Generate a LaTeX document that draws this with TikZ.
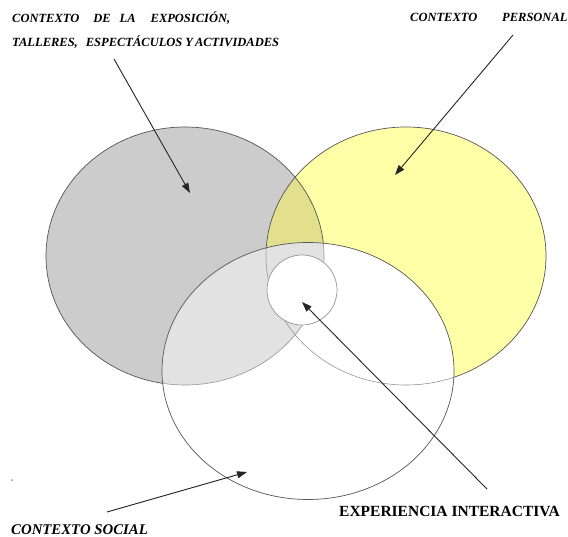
\documentclass[tikz,border=0pt]{standalone}
\usepackage{fontspec}
\setmainfont{Liberation Serif}
\usetikzlibrary{arrows.meta}

\definecolor{ctxgray}{RGB}{204,204,204}
\definecolor{ctxyellow}{RGB}{255,255,168}
\definecolor{ctxolive}{RGB}{226,224,140}
\definecolor{ctxlight}{RGB}{226,226,226}
\definecolor{edgedark}{RGB}{85,85,85}
\definecolor{edgelight}{RGB}{150,150,150}

\begin{document}
\begin{tikzpicture}[x=1pt,y=-1pt,
  outline/.style={draw=edgedark, line width=0.7pt},
  inner outline/.style={draw=edgelight, line width=0.6pt},
  pointer/.style={draw=black!85, line width=0.9pt, -{Triangle[length=10pt,width=7pt]}},
  toplabel/.style={anchor=base west, inner sep=0pt, font=\bfseries\itshape\fontsize{12.5}{14}\selectfont},
  sociallabel/.style={anchor=base west, inner sep=0pt, font=\bfseries\itshape\fontsize{14.8}{16}\selectfont},
  exlabel/.style={anchor=base east, inner sep=0pt, font=\bfseries\fontsize{15.5}{17}\selectfont},
]
\useasboundingbox (0,0) rectangle (568,537);
\fill[white] (0,0) rectangle (568,537);

% centres of the three contexts and the interactive experience
\coordinate (exhib) at (185,256);
\coordinate (personal) at (406,256);
\coordinate (social) at (308,371);
\coordinate (core) at (302,290);

% exhibition context (grey) and personal context (yellow)
\fill[ctxgray] (exhib) ellipse [x radius=139, y radius=129];
\fill[ctxyellow] (personal) ellipse [x radius=140, y radius=129];
\begin{scope}
  \clip (exhib) ellipse [x radius=139, y radius=129];
  \fill[ctxolive] (personal) ellipse [x radius=140, y radius=129];
\end{scope}
\draw[outline] (exhib) ellipse [x radius=139, y radius=129];
\draw[outline] (personal) ellipse [x radius=140, y radius=129];

% social context (white) laid over both
\fill[white] (social) ellipse [x radius=146, y radius=128.5];
\begin{scope}
  \clip (social) ellipse [x radius=146, y radius=128.5];
  \fill[ctxlight] (exhib) ellipse [x radius=139, y radius=129];
  \draw[inner outline] (exhib) ellipse [x radius=139, y radius=129];
  \draw[inner outline] (personal) ellipse [x radius=140, y radius=129];
\end{scope}
\draw[outline] (social) ellipse [x radius=146, y radius=128.5];

% interactive experience at the intersection
\node[circle, fill=white, draw=edgelight, line width=0.7pt, minimum size=70pt, inner sep=0pt] (coreC) at (core) {};

% arrow end points
\coordinate (exhibFrom) at (114,59);
\coordinate (exhibTo) at (190,193);
\coordinate (personalFrom) at (513,35);
\coordinate (personalTo) at (395,175);
\coordinate (coreFrom) at (487,489);
\coordinate (coreTo) at (302,302);
\coordinate (socialFrom) at (107,512);
\coordinate (socialTo) at (247,472);

\draw[pointer] (exhibFrom) -- (exhibTo);
\draw[pointer] (personalFrom) -- (personalTo);
\draw[pointer] (coreFrom) -- (coreTo);
\draw[pointer] (socialFrom) -- (socialTo);

% labels
\node[toplabel] (exhibA) at (12,23)
  {CONTEXTO\hspace{14pt}DE\hspace{9pt}LA\hspace{15pt}EXPOSICIÓN,};
\node[toplabel] (exhibB) at (12,47)
  {TALLERES,\hspace{8pt}ESPECTÁCULOS\hspace{3pt}Y\hspace{2pt}ACTIVIDADES};
\node[toplabel] (personalA) at (410,22) {CONTEXTO};
\node[toplabel] (personalB) at (502,22) {PERSONAL};
\node[sociallabel] (socialL) at (11,534) {CONTEXTO SOCIAL};
\node[exlabel] (coreL) at (560,516) {EXPERIENCIA INTERACTIVA};

% stray mark near the left margin
\fill[edgelight] (12,480) circle [radius=1];
\end{tikzpicture}
\end{document}
